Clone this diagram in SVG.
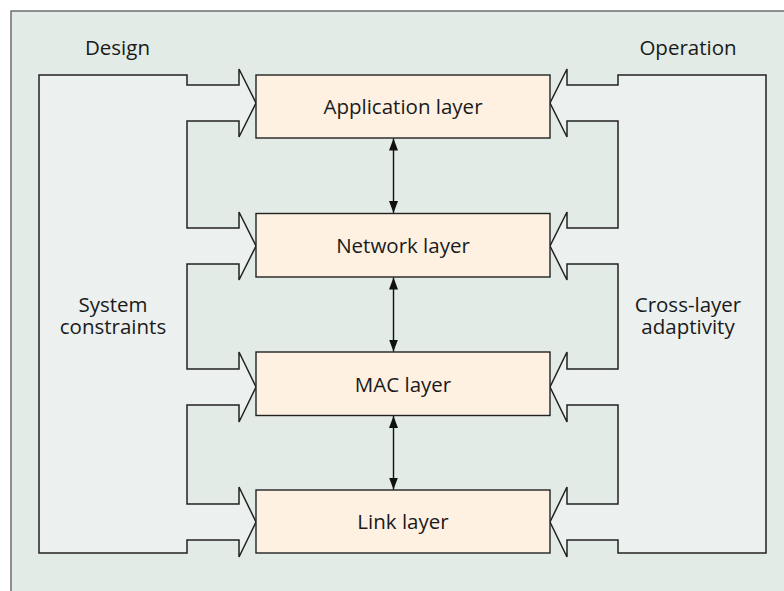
<svg xmlns="http://www.w3.org/2000/svg" width="784" height="591" viewBox="0 0 784 591">
  <defs>
    <style>
      .txt { font-family: "Open Sans", "Noto Sans", "DejaVu Sans", sans-serif; font-size: 20.5px; fill: #1a1a1a; text-anchor: middle; }
      .band { fill: #ecf0ee; stroke: #222; stroke-width: 1.5; stroke-linejoin: miter; }
      .layer { fill: #fef1e2; stroke: #222; stroke-width: 1.4; }
      .link { stroke: #111; stroke-width: 1.4; fill: none; marker-start: url(#head); marker-end: url(#head); }
    </style>
    <marker id="head" viewBox="0 0 12 10" refX="12" refY="5" markerWidth="12" markerHeight="10" markerUnits="userSpaceOnUse" orient="auto-start-reverse">
      <path d="M0,0.5 L12,5 L0,9.5 Z" fill="#111"/>
    </marker>
  </defs>

  <!-- page and panel -->
  <rect x="0" y="0" width="784" height="591" fill="#ffffff"/>
  <rect x="11" y="11" width="790" height="600" fill="#e3ebe6" stroke="#6e6e6e" stroke-width="1.5"/>

  <!-- design-side band: system constraints feeding every layer -->
  <g id="design">
    <path class="band" d="M39,75 L187,75 L187,85 L239,85 L239,69 L256,103 L239,137 L239,121 L187,121
      L187,228 L239,228 L239,212 L256,246 L239,280 L239,264 L187,264
      L187,369 L239,369 L239,352 L256,387 L239,422 L239,405 L187,405
      L187,504 L239,504 L239,487 L256,522 L239,557 L239,540 L187,540
      L187,553 L39,553 Z"/>
    <text class="txt" x="117.5" y="55">Design</text>
    <text class="txt" x="113" y="311.5"><tspan x="113">System</tspan><tspan x="113" dy="22">constraints</tspan></text>
  </g>

  <!-- operation-side band: cross-layer adaptivity -->
  <g id="operation">
    <path class="band" d="M766,75 L618,75 L618,85 L567,85 L567,69 L550,103 L567,137 L567,121 L618,121
      L618,228 L567,228 L567,212 L550,246 L567,280 L567,264 L618,264
      L618,369 L567,369 L567,352 L550,387 L567,422 L567,405 L618,405
      L618,504 L567,504 L567,487 L550,522 L567,557 L567,540 L618,540
      L618,553 L766,553 Z"/>
    <text class="txt" x="688" y="55">Operation</text>
    <text class="txt" x="688" y="311.5"><tspan x="688">Cross-layer</tspan><tspan x="688" dy="22">adaptivity</tspan></text>
  </g>

  <!-- protocol stack -->
  <g id="application">
    <rect class="layer" x="256" y="75" width="294" height="63"/>
    <text class="txt" x="403" y="114.3">Application layer</text>
  </g>
  <g id="network">
    <rect class="layer" x="256" y="213.5" width="294" height="63.5"/>
    <text class="txt" x="403" y="253">Network layer</text>
  </g>
  <g id="mac">
    <rect class="layer" x="256" y="352" width="294" height="63.5"/>
    <text class="txt" x="403" y="391.5">MAC layer</text>
  </g>
  <g id="link">
    <rect class="layer" x="256" y="490" width="294" height="63"/>
    <text class="txt" x="403" y="529">Link layer</text>
  </g>

  <!-- two-way links between adjacent layers -->
  <g id="connectors">
    <line class="link" x1="393.5" y1="138.5" x2="393.5" y2="213"/>
    <line class="link" x1="393.5" y1="277.5" x2="393.5" y2="351.5"/>
    <line class="link" x1="393.5" y1="416" x2="393.5" y2="489.5"/>
  </g>
</svg>
